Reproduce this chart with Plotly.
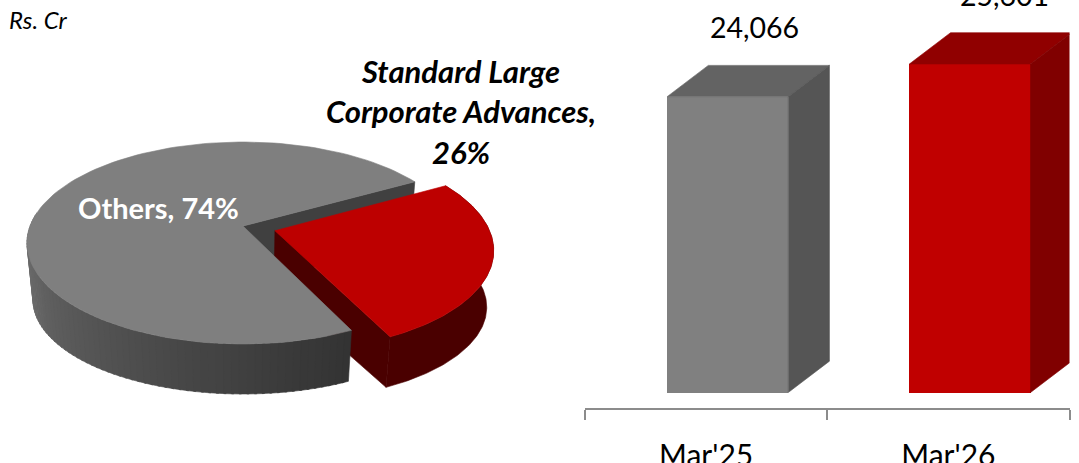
import math
import plotly.graph_objects as go

# ---- data ----
pie_labels = ["Standard Large<br>Corporate Advances,<br>26%", "Others, 74%"]
pie_shares = [26, 74]
bar_categories = ["Mar'25", "Mar'26"]
bar_values = [24066, 25601]
bar_text = ["24,066", "25,601"]

FONT = "Lato"
W, H = 1079, 463

# ---- pie geometry (a tilted, perspective disc) ----
TILT = 0.168          # how far the disc centre sits behind the ellipse centre
START_DEG = 29.2      # angle at which the first slice starts, going clockwise
EXPLODE = 0.156
CX = 243
TOP = dict(a=216, b=101, cy=243)
BOT = dict(a=210, b=94, cy=300)
S = math.sqrt(1 - TILT ** 2)


def project(u, v, face):
    d = 1 + TILT * v
    return CX + face["a"] * u * S / d, face["cy"] - face["b"] * (v + TILT) / d


def disc(deg, shift=(0, 0)):
    t = math.radians(deg)
    return math.cos(t) + shift[0], math.sin(t) + shift[1]


def poly(xs, ys, color, xa="x2", ya="y2"):
    return go.Scatter(
        x=list(xs) + [xs[0]], y=list(ys) + [ys[0]], xaxis=xa, yaxis=ya,
        mode="lines", fill="toself", fillcolor=color,
        line=dict(color=color, width=0.6), hoverinfo="skip", showlegend=False,
    )


def pts(plist, face):
    p = [project(u, v, face) for u, v in plist]
    return [a for a, _ in p], [b for _, b in p]


def arc(a0, a1, shift=(0, 0), n=120):
    return [disc(a0 + (a1 - a0) * i / n, shift) for i in range(n + 1)]


span = 360 * pie_shares[0] / sum(pie_shares)
red_a0, red_a1 = START_DEG, START_DEG - span
mid = math.radians((red_a0 + red_a1) / 2)
shift = (EXPLODE * math.cos(mid), EXPLODE * math.sin(mid))

traces = []

# cut wall of the large slice seen through the gap
g_end = disc(red_a0)
xs_t, ys_t = pts([(0, 0), g_end], TOP)
xs_b, ys_b = pts([g_end, (0, 0)], BOT)
traces.append(poly(xs_t + xs_b, ys_t + ys_b, "#404040"))

# exploded slice: cut wall, outer wall, top
r_end = disc(red_a1, shift)
xs_t, ys_t = pts([shift, r_end], TOP)
xs_b, ys_b = pts([r_end, shift], BOT)
traces.append(poly(xs_t + xs_b, ys_t + ys_b, "#4a0000"))
red_arc = arc(red_a0, red_a1, shift)
xs_t, ys_t = pts(red_arc, TOP)
xs_b, ys_b = pts(red_arc[::-1], BOT)
traces.append(poly(xs_t + xs_b, ys_t + ys_b, "#4a0000"))
xs, ys = pts([shift] + red_arc, TOP)
traces.append(poly(xs, ys, "#bd0000"))

# large slice: shaded outer wall, top
wall_a0, wall_a1 = 172, 360 + red_a1
N = 70
for i in range(N):
    a = wall_a0 + (wall_a1 - wall_a0) * i / N
    b = min(wall_a0 + (wall_a1 - wall_a0) * (i + 1.3) / N, wall_a1)
    seg = [disc(a), disc(b)]
    xs_t, ys_t = pts(seg, TOP)
    xs_b, ys_b = pts(seg[::-1], BOT)
    f = i / (N - 1)
    g = int(round(0x7c - (0x7c - 0x33) * f ** 0.85))
    traces.append(poly(xs_t + xs_b, ys_t + ys_b, f"rgb({g},{g},{g})"))
xs, ys = pts([(0, 0)] + arc(red_a0, 360 + red_a1), TOP)
traces.append(poly(xs, ys, "#7f7f7f"))

# ---- bars ----
BASE = 10176
BAR_OFFSET = -0.161
BAR_WIDTH = 0.5
DX = 0.17
DY = 1470
front = ["#808080", "#c00000"]
topc = ["#636363", "#900000"]
side = ["#555555", "#800000"]
idx = list(range(len(bar_values)))

traces.append(go.Bar(
    x=idx, y=[v - BASE for v in bar_values], base=[BASE] * len(idx),
    offset=BAR_OFFSET, width=BAR_WIDTH, marker=dict(color=front, line=dict(width=0)),
    xaxis="x", yaxis="y", showlegend=False, hoverinfo="skip",
))
for i, v in zip(idx, bar_values):
    x0 = i + BAR_OFFSET
    x1 = x0 + BAR_WIDTH
    traces.append(poly([x0, x1, x1 + DX, x0 + DX], [v, v, v + DY, v + DY], topc[i], "x", "y"))
    traces.append(poly([x1, x1, x1 + DX, x1 + DX], [BASE, v, v + DY, BASE + DY], side[i], "x", "y"))

label_dx = [0.2, 0.233]
annotations = [
    dict(x=i + label_dx[i], y=v + DY, xref="x", yref="y", text=bar_text[i], showarrow=False,
         xanchor="center", yanchor="bottom", yshift=19, font=dict(family=FONT, size=28.5, color="#000000"))
    for i, v in zip(idx, bar_values)
]
annotations += [
    dict(x=7, y=19, xref="x2", yref="y2", text="<i>Rs. Cr</i>", showarrow=False, xanchor="left",
         yanchor="middle", font=dict(family=FONT, size=24, color="#000000")),
    dict(x=461, y=111, xref="x2", yref="y2", text=f"<b><i>{pie_labels[0]}</i></b>", showarrow=False,
         xanchor="center", yanchor="middle", align="center", font=dict(family=FONT, size=31, color="#000000")),
    dict(x=158, y=207, xref="x2", yref="y2", text=f"<b>{pie_labels[1]}</b>", showarrow=False,
         xanchor="center", yanchor="middle", font=dict(family=FONT, size=29, color="#ffffff")),
]

fig = go.Figure(traces)
fig.update_layout(
    width=W, height=H, margin=dict(l=0, r=0, t=0, b=0, autoexpand=False), paper_bgcolor="white", plot_bgcolor="rgba(0,0,0,0)",
    showlegend=False, annotations=annotations, bargap=0,
    xaxis=dict(
        domain=[585 / W, 1069.5 / W], range=[-0.5, 1.5], tickmode="array", tickvals=idx, ticktext=bar_categories,
        ticks="", showgrid=False, zeroline=False, showline=True, linecolor="#8c8c8c", linewidth=2,
        tickfont=dict(family=FONT, size=30, color="#000000"), ticklabelstandoff=20, fixedrange=True,
        automargin=False,
        minor=dict(tickmode="array", tickvals=[-0.5, 0.5, 1.5], ticks="outside", ticklen=10,
                   tickwidth=2, tickcolor="#8c8c8c", showgrid=False),
        anchor="y",
    ),
    yaxis=dict(domain=[1 - 408 / H, 1], range=[9448, 28606], visible=False, fixedrange=True, anchor="x"),
    xaxis2=dict(domain=[0, 1], range=[0, W], visible=False, fixedrange=True, anchor="y2"),
    yaxis2=dict(domain=[0, 1], range=[H, 0], visible=False, fixedrange=True, anchor="x2"),
)
fig.write_html("out.html", config=dict(displayModeBar=False), post_script="document.body.style.margin='0';")
